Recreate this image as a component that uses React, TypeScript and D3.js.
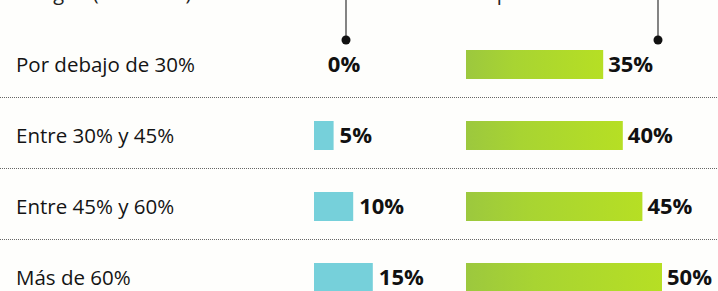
import { useEffect, useRef } from "react";
import * as d3 from "d3";

const categories = ["Por debajo de 30%", "Entre 30% y 45%", "Entre 45% y 60%", "Más de 60%"];
const cyanValues = [0, 5, 10, 15];
const greenValues = [35, 40, 45, 50];
const headers = ["Margen (en media)", "Empresas"];

export default function App() {
  const svgRef = useRef<SVGSVGElement | null>(null);

  useEffect(() => {
    const width = 718;
    const height = 291;
    const font = "'Open Sans', sans-serif";

    const svg = d3.select(svgRef.current).attr("width", width).attr("height", height);
    svg.selectAll("*").remove();

    svg.append("rect").attr("width", width).attr("height", height).attr("fill", "#fefefc");

    const defs = svg.append("defs");
    const grad = defs
      .append("linearGradient")
      .attr("id", "lime")
      .attr("x1", "0%")
      .attr("x2", "100%");
    grad.append("stop").attr("offset", "0%").attr("stop-color", "#9cc83e");
    grad.append("stop").attr("offset", "35%").attr("stop-color", "#a8d432");
    grad.append("stop").attr("offset", "100%").attr("stop-color", "#b6df24");

    // rows sit between the dotted separators
    const y = d3.scaleBand<string>().domain(categories).range([26.5, 310.5]);
    const x = d3.scaleLinear().domain([0, 50]).range([0, 196]);

    const cyanX = 314;
    const greenX = 466;
    const colLines = [346, 658];

    // column headers, cut by the top edge as in the scan
    svg
      .selectAll("text.head")
      .data(headers)
      .enter()
      .append("text")
      .attr("class", "head")
      .attr("x", (_, i) => (i === 0 ? 16 : 467))
      .attr("y", 0)
      .attr("font-family", font)
      .attr("font-size", 20)
      .attr("fill", "#222")
      .text((d) => d);

    colLines.forEach((cx) => {
      svg.append("line").attr("x1", cx).attr("x2", cx).attr("y1", 0).attr("y2", 40)
        .attr("stroke", "#333").attr("stroke-width", 1.2);
      svg.append("circle").attr("cx", cx).attr("cy", 40).attr("r", 4.5).attr("fill", "#111");
    });

    // dotted separators
    svg
      .selectAll("line.sep")
      .data(categories.slice(1))
      .enter()
      .append("line")
      .attr("class", "sep")
      .attr("x1", 0)
      .attr("x2", width)
      .attr("y1", (d) => y(d)!)
      .attr("y2", (d) => y(d)!)
      .attr("stroke", "#666")
      .attr("stroke-width", 1)
      .attr("stroke-dasharray", "1,1");

    const rows = svg
      .selectAll("g.row")
      .data(categories)
      .enter()
      .append("g")
      .attr("class", "row")
      .attr("transform", (d) => `translate(0,${y(d)})`);

    rows
      .append("text")
      .attr("x", 16)
      .attr("y", 45.5)
      .attr("font-family", font)
      .attr("font-size", 20.5)
      .attr("fill", "#141414")
      .text((d) => d);

    rows
      .append("rect")
      .attr("x", cyanX)
      .attr("y", 23.5)
      .attr("height", 29)
      .attr("width", (_, i) => x(cyanValues[i]))
      .attr("fill", "#76d0da");

    rows
      .append("text")
      .attr("x", (_, i) => (cyanValues[i] === 0 ? colLines[0] - 2 : cyanX + x(cyanValues[i]) + 6))
      .attr("y", 45.5)
      .attr("text-anchor", (_, i) => (cyanValues[i] === 0 ? "middle" : "start"))
      .attr("font-family", font)
      .attr("font-weight", 700)
      .attr("font-size", 22)
      .attr("fill", "#111")
      .text((_, i) => `${cyanValues[i]}%`);

    rows
      .append("rect")
      .attr("x", greenX)
      .attr("y", 23.5)
      .attr("height", 29)
      .attr("width", (_, i) => x(greenValues[i]))
      .attr("fill", "url(#lime)");

    rows
      .append("text")
      .attr("x", (_, i) => greenX + x(greenValues[i]) + 5)
      .attr("y", 45.5)
      .attr("font-family", font)
      .attr("font-weight", 700)
      .attr("font-size", 22)
      .attr("fill", "#111")
      .text((_, i) => `${greenValues[i]}%`);
  }, []);

  return (
    <div>
      <style>{"body{margin:0}"}</style>
      <svg ref={svgRef} style={{ display: "block" }} />
    </div>
  );
}
